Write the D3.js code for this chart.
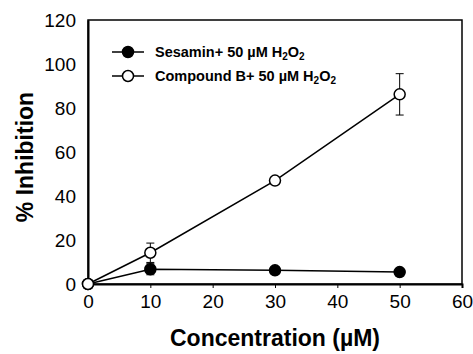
<!DOCTYPE html>
<html><head><meta charset="utf-8">
<script src="https://cdn.jsdelivr.net/npm/d3@7"></script>
<style>body{margin:0;background:#fff}svg{display:block}text{font-family:"Liberation Sans",Arial,sans-serif}</style>
</head><body><svg id="c" width="473" height="354"></svg>
<script>
const concentrations = [0, 10, 30, 50];
const sesamin = [0, 6.7, 6.2, 5.4];
const sesaminErr = [0, 2.5, 0.8, 0.6];
const compoundB = [0, 14.2, 47, 86.2];
const compoundBErr = [0, 4.4, 1.6, 9.4];
const xTicks = [0, 10, 20, 30, 40, 50, 60];
const yTicks = [0, 20, 40, 60, 80, 100, 120];
const seriesNames = ["Sesamin+ 50 \u00B5M H", "Compound B+ 50 \u00B5M H"];

const svg = d3.select("#c");
const m = {l: 88, r: 11, t: 20, b: 70};
const W = 473, H = 354;
const x = d3.scaleLinear().domain([0, 60]).range([m.l, W - m.r]);
const y = d3.scaleLinear().domain([0, 120]).range([H - m.b, m.t]);

svg.append("rect").attr("x", m.l).attr("y", m.t).attr("width", x(60) - m.l).attr("height", y(0) - m.t)
  .attr("fill", "none").attr("stroke", "#000").attr("stroke-width", 1.5);

const xa = svg.append("g").attr("transform", `translate(0,${y(0)})`)
  .call(d3.axisBottom(x).tickValues(xTicks).tickSize(4).tickPadding(7));
const ya = svg.append("g").attr("transform", `translate(${m.l},0)`)
  .call(d3.axisLeft(y).tickValues(yTicks).tickSize(0).tickPadding(12));
[xa, ya].forEach(a => {
  a.select(".domain").attr("stroke-width", 2);
  a.selectAll("text").attr("font-size", 19).attr("fill", "#000").style("font-family", '"Liberation Sans",Arial,sans-serif');
});
xa.selectAll(".tick line").attr("stroke-width", 1);

const data = [
  {vals: sesamin, err: sesaminErr, fill: "#000"},
  {vals: compoundB, err: compoundBErr, fill: "#fff"}
];
const line = d3.line().x((d, i) => x(concentrations[i])).y(d => y(d));

data.forEach(s => {
  const g = svg.append("g");
  g.append("path").attr("d", line(s.vals)).attr("fill", "none").attr("stroke", "#000").attr("stroke-width", 1.5);
  s.vals.forEach((v, i) => {
    if (s.err[i] > 0) {
      const cx = x(concentrations[i]);
      g.append("line").attr("x1", cx).attr("x2", cx).attr("y1", y(v - s.err[i])).attr("y2", y(v + s.err[i])).attr("stroke", "#000").attr("stroke-width", 1);
      [v - s.err[i], v + s.err[i]].forEach(e => g.append("line").attr("x1", cx - 4).attr("x2", cx + 4).attr("y1", y(e)).attr("y2", y(e)).attr("stroke", "#000").attr("stroke-width", 1));
    }
  });
  s.vals.forEach((v, i) => {
    g.append("circle").attr("cx", x(concentrations[i])).attr("cy", y(v)).attr("r", 5.5)
      .attr("fill", s.fill).attr("stroke", "#000").attr("stroke-width", 1.5);
  });
});

const lg = svg.append("g");
const rowsY = [52, 76];
data.forEach((s, i) => {
  const yy = rowsY[i];
  lg.append("line").attr("x1", 112).attr("x2", 144).attr("y1", yy).attr("y2", yy).attr("stroke", "#000").attr("stroke-width", 1.5);
  lg.append("circle").attr("cx", 128).attr("cy", yy).attr("r", 5.5).attr("fill", s.fill).attr("stroke", "#000").attr("stroke-width", 1.5);
  const t = lg.append("text").attr("x", 155).attr("y", yy + 5).attr("font-size", 14.5).attr("font-weight", "bold");
  t.append("tspan").text(seriesNames[i]);
  t.append("tspan").attr("font-size", 10).attr("dy", 3).text("2");
  t.append("tspan").attr("dy", -3).text("O");
  t.append("tspan").attr("font-size", 10).attr("dy", 3).text("2");
});

svg.append("text").attr("x", (x(0) + x(60)) / 2).attr("y", 346).attr("text-anchor", "middle")
  .attr("font-size", 23).attr("font-weight", "bold").text("Concentration (\u00B5M)");
svg.append("text").attr("transform", `translate(33,157) rotate(-90)`).attr("text-anchor", "middle")
  .attr("font-size", 23).attr("font-weight", "bold").text("% Inhibition");
</script></body></html>
